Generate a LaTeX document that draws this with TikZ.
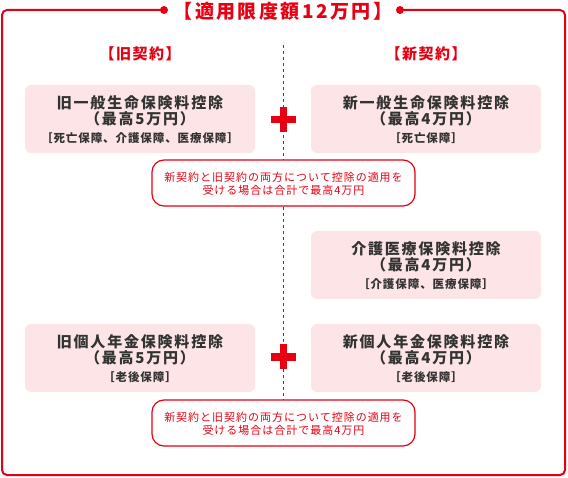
\documentclass[tikz,border=0pt]{standalone}
\usepackage{fontspec}
\setmainfont{Noto Sans CJK JP}
\definecolor{jred}{HTML}{E60012}
\definecolor{jpink}{HTML}{FDE5E7}
\definecolor{jgray}{HTML}{333333}
\tikzset{
  deductbox/.style={fill=jpink, draw=none, rounded corners=6pt, minimum width=230pt, minimum height=68pt, inner sep=0pt},
  mainline/.style={anchor=base, inner sep=0pt, text=jgray, font=\fontsize{15}{18}\selectfont\bfseries\addfontfeature{LetterSpace=12}},
  subline/.style={anchor=base, inner sep=0pt, text=jgray, font=\fontsize{11.5}{14}\selectfont\bfseries\addfontfeature{LetterSpace=8}},
  notebox/.style={draw=jred, line width=1.2pt, fill=white, rounded corners=12pt, minimum width=263pt, minimum height=46pt, inner sep=0pt},
  noteline/.style={anchor=base, inner sep=0pt, text=jred, font=\fontsize{11}{13}\selectfont\addfontfeature{LetterSpace=9}},
  headline/.style={anchor=base, inner sep=0pt, text=jred, font=\fontsize{15}{18}\selectfont\bfseries\addfontfeature{LetterSpace=10}},
  titleline/.style={anchor=base, inner sep=0pt, text=jred, font=\fontsize{19}{21}\selectfont\bfseries\addfontfeature{LetterSpace=13}},
  enddot/.style={circle, fill=jred, draw=none, minimum size=8pt, inner sep=0pt},
  frameline/.style={draw=jred, line width=2pt, rounded corners=5pt},
  divider/.style={draw=jred, line width=1pt, dash pattern=on 3pt off 3pt},
  plusmark/.style={fill=jred}
}
\begin{document}
\begin{tikzpicture}[x=1pt,y=-1pt]
\useasboundingbox (0,0) rectangle (568,478);
% frame
\node[enddot] (dotL) at (164,10) {};
\node[enddot] (dotR) at (400,10) {};
\coordinate (fTL) at (2,10);
\coordinate (fBL) at (2,475);
\coordinate (fBR) at (565,475);
\coordinate (fTR) at (565,10);
\draw[frameline] (dotL.center) -- (fTL) -- (fBL) -- (fBR) -- (fTR) -- (dotR.center);
\node[titleline] (title) at (283,18.7) {【適用限度額12万円】};
% headers
\node[headline] (oldhead) at (140,59.7) {【旧契約】};
\node[headline] (newhead) at (426,59.7) {【新契約】};
% divider
\coordinate (dtop) at (283.5,45);
\coordinate (dbot) at (283.5,400);
\draw[divider] (dtop) -- (dbot);
% boxes
\node[deductbox] (b1) at (140,119) {};
\node[deductbox] (b2) at (426,119) {};
\node[deductbox] (b3) at (426,265) {};
\node[deductbox] (b4) at (140,358) {};
\node[deductbox] (b5) at (426,358) {};
\node[mainline] (b1a) at (140,108.7) {旧一般生命保険料控除};
\node[mainline] (b1b) at (140,124.7) {（最高5万円）};
\node[subline] (b1c) at (140,142.4) {［死亡保障、介護保障、医療保障］};
\node[mainline] (b2a) at (426,108.7) {新一般生命保険料控除};
\node[mainline] (b2b) at (426,124.7) {（最高4万円）};
\node[subline] (b2c) at (426,142.4) {［死亡保障］};
\node[mainline] (b3a) at (426,254.7) {介護医療保険料控除};
\node[mainline] (b3b) at (426,270.7) {（最高4万円）};
\node[subline] (b3c) at (426,288.4) {［介護保障、医療保障］};
\node[mainline] (b4a) at (140,347.7) {旧個人年金保険料控除};
\node[mainline] (b4b) at (140,363.7) {（最高5万円）};
\node[subline] (b4c) at (140,381.4) {［老後保障］};
\node[mainline] (b5a) at (426,347.7) {新個人年金保険料控除};
\node[mainline] (b5b) at (426,363.7) {（最高4万円）};
\node[subline] (b5c) at (426,381.4) {［老後保障］};
% plus marks
\node[inner sep=0pt, minimum size=25pt] (plus1) at (283.5,119.5) {};
\node[inner sep=0pt, minimum size=25pt] (plus2) at (283.5,357) {};
\foreach \p in {plus1,plus2}{
  \fill[plusmark] ([shift={(-12.5pt,-3.75pt)}]\p.center) rectangle ([shift={(12.5pt,3.75pt)}]\p.center);
  \fill[plusmark] ([shift={(-3.75pt,-12.5pt)}]\p.center) rectangle ([shift={(3.75pt,12.5pt)}]\p.center);
}
% notes
\node[notebox] (n1) at (283.5,183) {};
\node[noteline] (n1a) at (283.5,181.2) {新契約と旧契約の両方について控除の適用を};
\node[noteline] (n1b) at (283.5,194.2) {受ける場合は合計で最高4万円};
\node[notebox] (n2) at (283.5,423) {};
\node[noteline] (n2a) at (283.5,421.2) {新契約と旧契約の両方について控除の適用を};
\node[noteline] (n2b) at (283.5,434.2) {受ける場合は合計で最高4万円};
\end{tikzpicture}
\end{document}
